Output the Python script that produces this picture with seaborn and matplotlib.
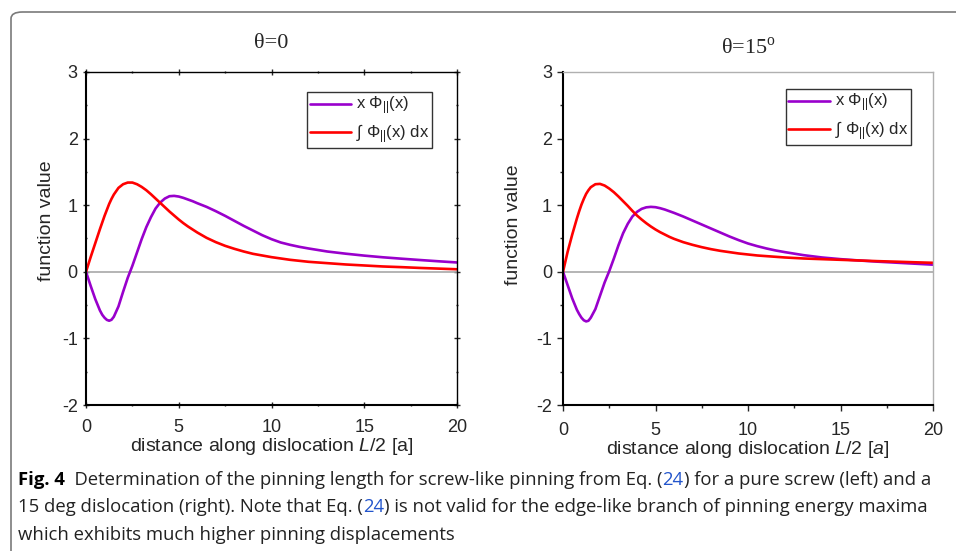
import numpy as np
import pandas as pd
import seaborn as sns
import matplotlib.pyplot as plt
from matplotlib.patches import FancyBboxPatch
from matplotlib.ticker import MultipleLocator

# values (same x grid for both panels)
x_vals = [0, 0.25, 0.5, 0.75, 0.875, 1.0, 1.125, 1.25, 1.375, 1.5, 1.75, 2.0, 2.25, 2.5, 2.75,
          3.0, 3.25, 3.5, 3.75, 4.0, 4.25, 4.5, 4.75, 5.0, 5.25, 5.5, 5.75, 6.0, 6.5, 7.0, 7.5,
          8.0, 8.5, 9.0, 9.5, 10, 10.5, 11, 11.5, 12, 13, 14, 15, 16, 17, 18, 19, 20]

xphi_left = [0, -0.21, -0.41, -0.58, -0.645, -0.69, -0.722, -0.735, -0.72, -0.675, -0.52, -0.30,
             -0.09, 0.09, 0.29, 0.49, 0.67, 0.82, 0.95, 1.04, 1.10, 1.135, 1.14, 1.13, 1.11,
             1.085, 1.06, 1.03, 0.975, 0.91, 0.84, 0.765, 0.69, 0.62, 0.55, 0.49, 0.44, 0.405,
             0.375, 0.35, 0.305, 0.272, 0.243, 0.218, 0.197, 0.177, 0.158, 0.14]
int_left = [0, 0.22, 0.43, 0.64, 0.74, 0.84, 0.93, 1.02, 1.095, 1.16, 1.26, 1.315, 1.34, 1.34,
            1.315, 1.275, 1.225, 1.165, 1.10, 1.035, 0.97, 0.905, 0.845, 0.785, 0.73, 0.68,
            0.635, 0.59, 0.51, 0.445, 0.39, 0.345, 0.305, 0.27, 0.245, 0.22, 0.20, 0.18, 0.165,
            0.15, 0.13, 0.11, 0.095, 0.08, 0.07, 0.058, 0.048, 0.038]

xphi_right = [0, -0.20, -0.40, -0.57, -0.635, -0.69, -0.728, -0.745, -0.735, -0.69, -0.56, -0.36,
              -0.16, 0.01, 0.20, 0.40, 0.58, 0.72, 0.83, 0.90, 0.945, 0.968, 0.975, 0.97, 0.955,
              0.935, 0.91, 0.885, 0.83, 0.77, 0.71, 0.65, 0.59, 0.53, 0.475, 0.425, 0.385, 0.35,
              0.32, 0.295, 0.25, 0.215, 0.19, 0.17, 0.152, 0.137, 0.122, 0.107]
int_right = [0, 0.30, 0.56, 0.80, 0.91, 1.01, 1.095, 1.17, 1.225, 1.27, 1.315, 1.32, 1.295, 1.25,
             1.195, 1.13, 1.06, 0.99, 0.915, 0.845, 0.785, 0.73, 0.68, 0.635, 0.595, 0.56,
             0.525, 0.495, 0.445, 0.405, 0.37, 0.34, 0.315, 0.295, 0.275, 0.26, 0.245, 0.235,
             0.225, 0.215, 0.20, 0.19, 0.18, 0.17, 0.16, 0.152, 0.143, 0.135]

titles = ["θ=0", "θ=15$^{\\mathregular{o}}$"]
labels = ["x Φ$_{\\mathregular{||}}$(x)", "∫ Φ$_{\\mathregular{||}}$(x) dx"]
purple = "#9900CC"
red = "#FF0000"

sns.set_style("ticks")
plt.rcParams["font.family"] = ["Liberation Sans", "DejaVu Sans"]
plt.rcParams["mathtext.fontset"] = "custom"
plt.rcParams["mathtext.rm"] = "Liberation Sans"
plt.rcParams["mathtext.it"] = "Liberation Sans:italic"
plt.rcParams["axes.unicode_minus"] = False

fig = plt.figure(figsize=(9.56, 5.51), dpi=100)

frame = FancyBboxPatch((11 / 956, 1 - 12 / 551 - 1.2), 1.2, 1.2,
                       boxstyle="round,pad=0,rounding_size=0.012",
                       transform=fig.transFigure, fill=False, ec="#7a7a7a", lw=1.2)
fig.patches.append(frame)

panels = [
    (xphi_left, int_left, [86 / 956, 1 - 405 / 551, 371 / 956, 333 / 551], (0.933, 0.94), "k",
     (-0.084, 0.553), 17),
    (xphi_right, int_right, [563 / 956, 1 - 405 / 551, 370 / 956, 333 / 551], (0.94, 0.949), "#b0b0b0",
     (-0.11, 0.54), 13),
]

for i, (y1, y2, rect, anchor, edge, ylab_pos, tpad) in enumerate(panels):
    ax = fig.add_axes(rect)
    df = pd.DataFrame({"x": x_vals, "a": y1, "b": y2})
    ax.axhline(0, color="#a8a8a8", lw=1.2, zorder=1)
    sns.lineplot(data=df, x="x", y="a", color=purple, lw=1.9, label=labels[0], ax=ax, sort=False)
    sns.lineplot(data=df, x="x", y="b", color=red, lw=1.9, label=labels[1], ax=ax, sort=False)
    ax.set_xlim(0, 20)
    ax.set_ylim(-2, 3)
    ax.xaxis.set_major_locator(MultipleLocator(5))
    ax.xaxis.set_minor_locator(MultipleLocator(2.5))
    ax.yaxis.set_major_locator(MultipleLocator(1))
    ax.yaxis.set_minor_locator(MultipleLocator(0.5))
    ax.tick_params(which="major", direction="out", length=4, width=1, labelsize=13)
    ax.tick_params(axis="x", which="major", pad=8)
    ax.tick_params(axis="y", which="major", pad=4)
    ax.tick_params(which="minor", direction="out", length=2, width=1)
    for s in ["left", "bottom"]:
        ax.spines[s].set_linewidth(1.5)
        ax.spines[s].set_color("k")
    for s in ["top", "right"]:
        ax.spines[s].set_visible(True)
        ax.spines[s].set_linewidth(1.0)
        ax.spines[s].set_color(edge)
    if i == 0:
        ax.tick_params(which="both", top=True, right=True, direction="inout")
    ax.set_ylabel("function value", fontsize=14)
    ax.yaxis.set_label_coords(*ylab_pos)
    if i == 0:
        ax.set_xlabel("distance along dislocation $\\mathit{L/2}$ [a]", fontsize=14, labelpad=0)
    else:
        ax.set_xlabel("distance along dislocation $\\mathit{L/2}$ [$\\mathit{a}$]", fontsize=14, labelpad=0)
    ax.set_title(titles[i], family="Liberation Serif", fontsize=16, pad=tpad)
    leg = ax.legend(loc="upper right", bbox_to_anchor=anchor, borderaxespad=0, fancybox=False,
                    fontsize=12, handlelength=2.5, handletextpad=0.3, borderpad=0.15,
                    labelspacing=0.3, framealpha=1)
    leg.get_frame().set_edgecolor("#333333")
    leg.get_frame().set_linewidth(1.0)

# caption, drawn piece by piece
cap_font = ["Open Sans", "DejaVu Sans"]
lines = [
    [("Fig. 4", "k", "bold"), ("  Determination of the pinning length for screw-like pinning from Eq. (", "#222222", "normal"),
     ("24", "#2255cc", "normal"), (") for a pure screw (left) and a", "#222222", "normal")],
    [("15 deg dislocation (right). Note that Eq. (", "#222222", "normal"), ("24", "#2255cc", "normal"),
     (") is not valid for the edge-like branch of pinning energy maxima", "#222222", "normal")],
    [("which exhibits much higher pinning displacements", "#222222", "normal")],
]
fig.canvas.draw()
renderer = fig.canvas.get_renderer()
for j, pieces in enumerate(lines):
    xpos = 18 / 956
    ypos = 1 - (480 + 27.5 * j) / 551
    for txt, col, wt in pieces:
        t = fig.text(xpos, ypos, txt, color=col, weight=wt, family=cap_font, fontsize=13.3,
                     va="center", ha="left")
        bb = t.get_window_extent(renderer=renderer)
        xpos += bb.width / fig.bbox.width

fig.savefig("out.png", dpi=100)
